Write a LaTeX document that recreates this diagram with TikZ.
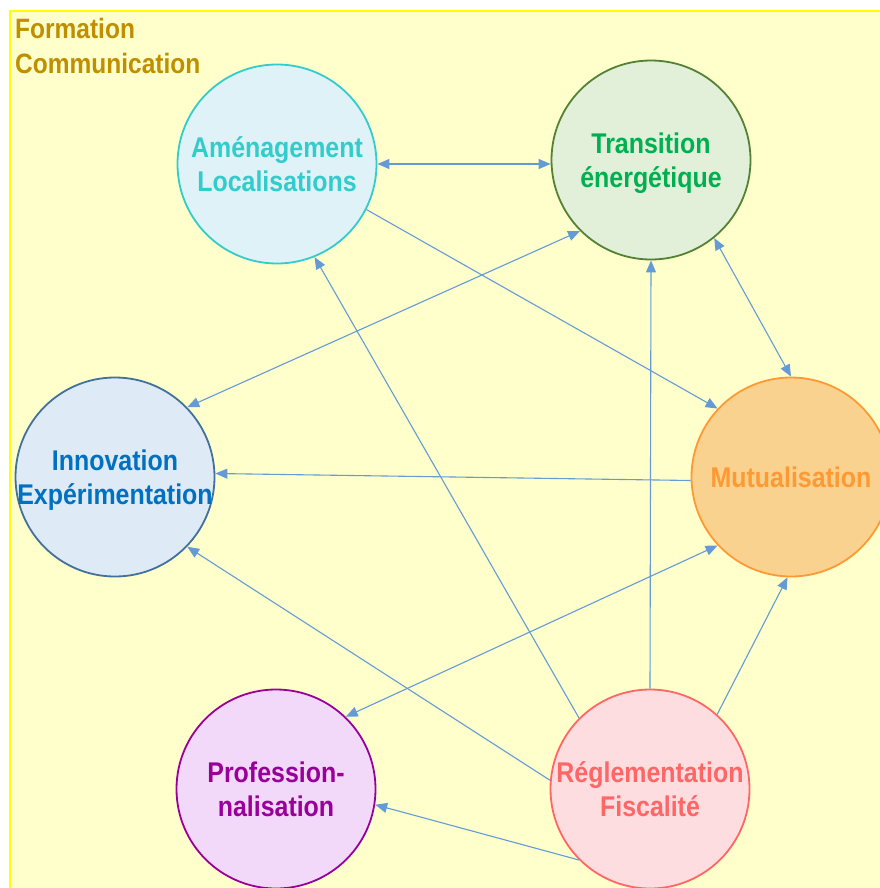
\documentclass[tikz,border=0pt]{standalone}
\usepackage{fontspec}
\setmainfont{Liberation Sans}[FakeStretch=0.875]
\usetikzlibrary{arrows.meta}
\definecolor{bgfill}{HTML}{FFFFCC}
\definecolor{bgline}{HTML}{FFFF00}
\definecolor{arrowc}{RGB}{100,155,215}
\definecolor{ameT}{HTML}{33CCCC}\definecolor{ameF}{HTML}{DEF2F7}
\definecolor{traT}{HTML}{00B050}\definecolor{traF}{HTML}{E2EFD9}\definecolor{traB}{HTML}{548235}
\definecolor{innT}{HTML}{0070C0}\definecolor{innF}{HTML}{DEEAF6}\definecolor{innB}{HTML}{41719C}
\definecolor{mutT}{HTML}{FF9933}\definecolor{mutF}{HTML}{F9D28F}
\definecolor{proT}{HTML}{990099}\definecolor{proF}{HTML}{F2D9FA}
\definecolor{regT}{HTML}{FF6666}\definecolor{regF}{HTML}{FDDDE0}
\definecolor{formT}{HTML}{BF8F00}
\newcommand\mytop{\rule{0pt}{29pt}}
\newcommand\mybot{\rule[-8pt]{0pt}{8pt}}
\begin{document}
\begin{tikzpicture}[x=1pt,y=-1pt,
  bubble/.style={circle,minimum size=199pt,inner sep=0pt,line width=1.8pt},
  lbl/.style={inner sep=0pt,align=center,font=\fontsize{28.5}{34.5}\selectfont\bfseries},
  link/.style={draw=arrowc,line width=1.1pt,-{Triangle[length=12pt,width=10pt]}},
  dlink/.style={draw=arrowc,line width=1.1pt,{Triangle[length=12pt,width=10pt]}-{Triangle[length=12pt,width=10pt]}}]
\useasboundingbox (0,0) rectangle (879,888);
\fill[bgfill] (10,11) rectangle (890,900);
\draw[bgline,line width=2pt] (10,900) -- (10,11) -- (890,11);
\node[anchor=north west,inner sep=0pt,align=left,text=formT,
  font=\fontsize{28}{35}\selectfont\bfseries] (form) at (15,18) {Formation\\Communication};
\node[bubble,draw=ameT,fill=ameF,label={[lbl,text=ameT]center:{\mytop Aménagement\\Localisations\mybot}}] (ame) at (277,164) {};
\node[bubble,draw=traB,fill=traF,label={[lbl,text=traT]center:{\mytop Transition\\énergétique\mybot}}] (tra) at (651,160) {};
\node[bubble,draw=innB,fill=innF,label={[lbl,text=innT]center:{\mytop Innovation\\Expérimentation\mybot}}] (inn) at (115,477) {};
\node[bubble,draw=mutT,fill=mutF,label={[lbl,text=mutT]center:{\mytop Mutualisation\mybot}}] (mut) at (791,477) {};
\node[bubble,draw=proT,fill=proF,label={[lbl,text=proT]center:{\mytop Profession-\\nalisation\mybot}}] (pro) at (276,789) {};
\node[bubble,draw=regT,fill=regF,label={[lbl,text=regT]center:{\mytop Réglementation\\Fiscalité\mybot}}] (reg) at (650,789) {};
% connectors
\draw[dlink] (ame.east) -- (ame.east -| tra.west);
\draw[dlink] (tra.-51) -- (mut.90);
\draw[link] (ame.-27) -- (mut.137);
\draw[dlink] (tra.225) -- (inn.44);
\draw[link] (mut.182) -- (inn.2);
\draw[link] (reg.175) -- (inn.-44);
\draw[link] (reg.135) -- (ame.-68);
\draw[link] (reg.north) -- (tra.south);
\draw[link] (reg.48) -- (mut.-92);
\draw[link] (reg.225) -- (pro.-9);
\draw[dlink] (mut.223) -- (pro.46);
\end{tikzpicture}
\end{document}
